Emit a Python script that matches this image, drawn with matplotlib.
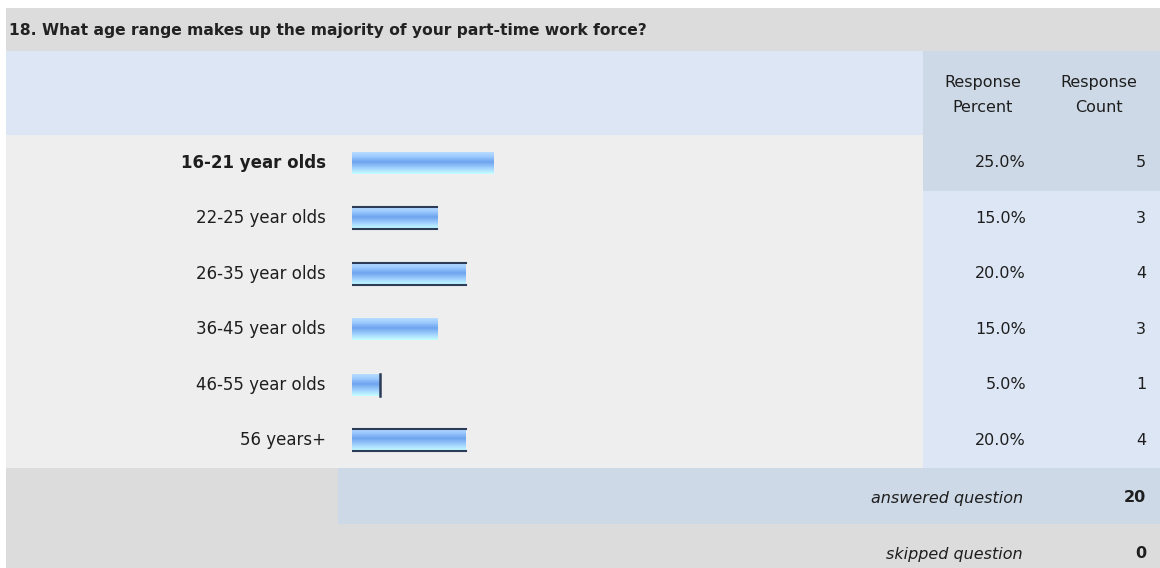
import matplotlib.pyplot as plt
import numpy as np
from matplotlib.colors import LinearSegmentedColormap
from matplotlib.transforms import blended_transform_factory

plt.rcParams['font.family'] = ['DejaVu Sans']

question = '18. What age range makes up the majority of your part-time work force?'
categories = ['16-21 year olds', '22-25 year olds', '26-35 year olds',
              '36-45 year olds', '46-55 year olds', '56 years+']
percents = [25.0, 15.0, 20.0, 15.0, 5.0, 20.0]
counts = [5, 3, 4, 3, 1, 4]
answered = 20
skipped = 0

# which bars show dark edge lines in the screenshot
edge_sides = ['', 'tb', 'tb', '', 'r', 'tb']

W, H = 1160, 568
fig = plt.figure(figsize=(W / 100, H / 100), dpi=100)
fig.patch.set_facecolor('white')

# table background in pixel coordinates
ax = fig.add_axes([0, 0, 1, 1])
ax.set_xlim(0, W)
ax.set_ylim(H, 0)
ax.axis('off')

grey = '#dcdcdc'
light = '#dce6f4'
dark = '#cdd9e6'
rowbg = '#eeeeee'
txt = '#1e1e1e'

x0 = 6
col_x = 923
top_rows = 135
row_h = 55.5
bottom_rows = top_rows + row_h * len(categories)


def rect(x, y, w, h, c):
    ax.add_patch(plt.Rectangle((x, y), w, h, facecolor=c, edgecolor='none'))


rect(x0, 8, W - x0, 43, grey)
rect(x0, 51, col_x - x0, top_rows - 51, light)
rect(col_x, 51, W - col_x, top_rows - 51, dark)
best = int(np.argmax(percents))
for i in range(len(categories)):
    y = top_rows + i * row_h
    rect(x0, y, col_x - x0, row_h, rowbg)
    rect(col_x, y, W - col_x, row_h, dark if i == best else light)
rect(x0, bottom_rows, W - x0, 56, grey)
rect(338, bottom_rows, W - 338, 56, dark)
rect(x0, bottom_rows + 56, W - x0, H - bottom_rows - 56, grey)

ax.text(9, 30, question, fontsize=11.2, fontweight='bold', color='#222222',
        va='center', ha='left')
for cx, word in [(983, 'Percent'), (1099, 'Count')]:
    ax.text(cx, 82, 'Response', fontsize=11.5, color=txt, ha='center', va='center')
    ax.text(cx, 107, word, fontsize=11.5, color=txt, ha='center', va='center')

# bar axes: x in percent, y in category index
bx0, bw = 352, 568
axb = fig.add_axes([bx0 / W, 1 - bottom_rows / H, bw / W, (bottom_rows - top_rows) / H])
axb.set_xlim(0, 100)
axb.set_ylim(len(categories) - 0.5, -0.5)
axb.axis('off')
axb.patch.set_alpha(0)

cmap = LinearSegmentedColormap.from_list(
    'bar', [(0, '#b8dcff'), (0.2, '#9ccaff'), (0.45, '#6ea4ee'),
            (0.75, '#a4d4ff'), (1.0, '#c6ffff')])
grad = np.linspace(0, 1, 64).reshape(-1, 1)
bh = 22 / row_h
y = np.arange(len(categories))
bars = axb.barh(y, percents, height=bh, color='none', edgecolor='none')
for b, side in zip(bars, edge_sides):
    x, yb = b.get_x(), b.get_y()
    w, h = b.get_width(), b.get_height()
    im = axb.imshow(grad, cmap=cmap, extent=(x, x + w, yb + h, yb),
                    aspect='auto', interpolation='bilinear')
    im.set_clip_path(b)
    if 't' in side:
        axb.plot([x, x + w], [yb, yb], color='#2c3c58', lw=1.5)
    if 'b' in side:
        axb.plot([x, x + w], [yb + h, yb + h], color='#2c3c58', lw=1.5)
    if 'r' in side:
        axb.plot([x + w, x + w], [yb, yb + h], color='#2c3c58', lw=1.8)
axb.set_xlim(0, 100)
axb.set_ylim(len(categories) - 0.5, -0.5)

tr = blended_transform_factory(ax.transData, axb.transData)
for i, (cat, p, c) in enumerate(zip(categories, percents, counts)):
    fw = 'bold' if i == best else 'normal'
    axb.text(326, i, cat, transform=tr, ha='right', va='center',
             fontsize=12, fontweight=fw, color=txt)
    axb.text(1026, i, f'{p:.1f}%', transform=tr, ha='right', va='center',
             fontsize=11.5, color=txt)
    axb.text(1146, i, str(c), transform=tr, ha='right', va='center',
             fontsize=11.5, color=txt)

ax.text(1023, bottom_rows + 30, 'answered question', fontsize=11.5,
        style='italic', ha='right', va='center', color=txt)
ax.text(1146, bottom_rows + 30, str(answered), fontsize=11.5,
        fontweight='bold', ha='right', va='center', color=txt)
ax.text(1023, bottom_rows + 86, 'skipped question', fontsize=11.5,
        style='italic', ha='right', va='center', color=txt)
ax.text(1146, bottom_rows + 86, str(skipped), fontsize=11.5,
        fontweight='bold', ha='right', va='center', color=txt)

fig.savefig('out.png', dpi=100)
